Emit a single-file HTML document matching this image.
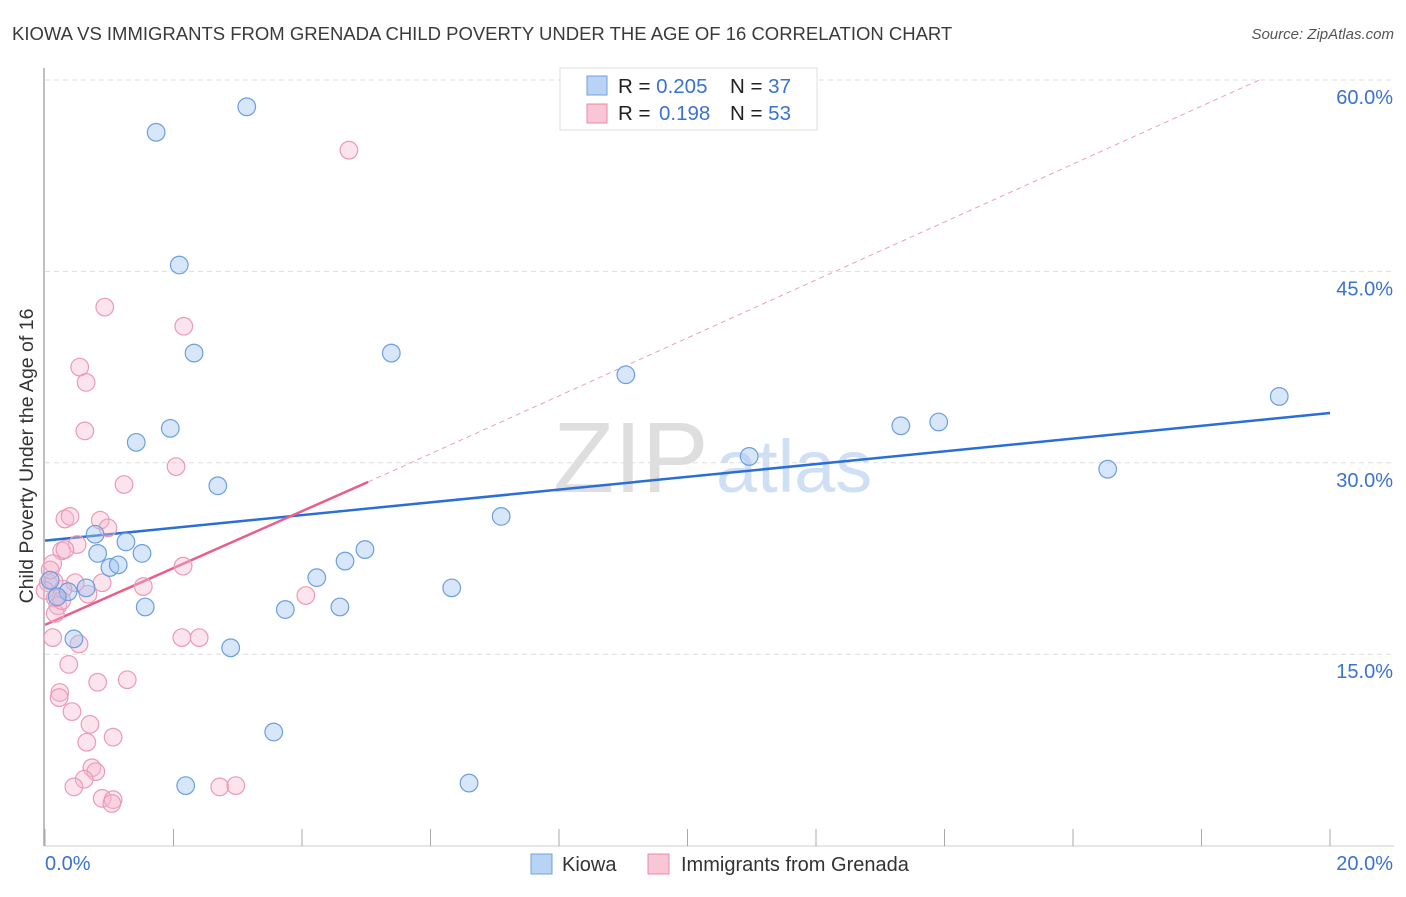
<!DOCTYPE html>
<html><head><meta charset="utf-8"><style>
body{margin:0;background:#fff;font-family:"Liberation Sans",sans-serif;}
svg text{font-family:"Liberation Sans",sans-serif;}
</style></head><body>
<svg id="chart" width="1406" height="892" xmlns="http://www.w3.org/2000/svg">
<text x="12" y="40" font-size="18.5" fill="#3a3a3a">KIOWA VS IMMIGRANTS FROM GRENADA CHILD POVERTY UNDER THE AGE OF 16 CORRELATION CHART</text>
<text x="1394" y="39" font-size="15" fill="#555" text-anchor="end" font-style="italic">Source: ZipAtlas.com</text>
<text x="0" y="0" transform="translate(33,456) rotate(-90)" font-size="19.5" fill="#333" text-anchor="middle">Child Poverty Under the Age of 16</text>
<text x="553" y="492" font-size="100" fill="#dedede" font-family="Liberation Serif">ZIP</text>
<text x="716" y="492" font-size="74" fill="#cfe0f5">atlas</text>
<g id="grid"></g><g id="axes"></g><g id="trend"></g><g id="pts"></g>
<g>
<rect x="560" y="68" width="257" height="62" fill="#fff" stroke="#ddd"/>
<rect x="587" y="76" width="20" height="19" fill="#b9d3f4" stroke="#6fa0e0"/>
<rect x="587" y="104" width="20" height="19" fill="#f9c6d6" stroke="#e88aa8"/>
<text x="618" y="93" font-size="20.5" fill="#222">R = <tspan fill="#3a72d0">0.205</tspan><tspan x="730">N = </tspan><tspan fill="#3a72d0">37</tspan></text>
<text x="618" y="120" font-size="20.5" fill="#222">R = <tspan fill="#3a72d0" x="659">0.198</tspan><tspan x="730">N = </tspan><tspan fill="#3a72d0">53</tspan></text>
</g>
<g>
<rect x="531" y="854" width="21" height="20" fill="#b9d3f4" stroke="#6fa0e0"/>
<text x="562" y="871" font-size="20" fill="#333">Kiowa</text>
<rect x="648" y="854" width="21" height="20" fill="#f9c6d6" stroke="#e88aa8"/>
<text x="681" y="871" font-size="20" fill="#333">Immigrants from Grenada</text>
</g>
</svg>
<script>
const yTicks=[15,30,45,60];
const yTickLabels=["15.0%","30.0%","45.0%","60.0%"];
const xTicks=[0,2,4,6,8,10,12,14,16,18,20];
const xEndLabels=["0.0%","20.0%"];
const kiowaX=[1.73,3.14,2.09,2.32,5.39,9.04,1.42,1.95,2.69,10.96,13.32,13.91,19.21,16.54,7.10,0.78,1.26,0.82,1.51,4.98,4.67,1.01,1.14,4.23,6.33,0.64,0.36,0.19,1.56,3.74,4.59,0.45,2.89,3.56,2.19,6.60,0.08];
const kiowaY=[55.9,57.9,45.5,38.6,38.6,36.9,31.6,32.7,28.2,30.5,32.9,33.2,35.2,29.5,25.8,24.4,23.8,22.9,22.9,23.2,22.3,21.8,22.0,21.0,20.2,20.2,19.9,19.5,18.7,18.5,18.7,16.2,15.5,8.9,4.7,4.9,20.8];
const grenX=[4.73,0.93,2.16,0.54,0.64,0.62,2.04,1.23,0.31,0.39,0.86,0.98,0.50,0.26,0.31,0.12,0.05,0.47,0.89,1.53,0.28,0.16,0.67,2.15,4.06,0.20,0.16,0.12,0.53,2.13,2.40,0.37,0.23,0.22,0.82,1.28,0.42,0.70,1.06,0.65,0.73,0.79,0.61,0.45,0.89,1.06,1.04,2.72,2.97,0.14,0.08,0.26,0.0];
const grenY=[54.5,42.2,40.7,37.5,36.3,32.5,29.7,28.3,25.6,25.8,25.5,24.9,23.6,23.1,23.2,22.1,20.6,20.6,20.6,20.3,20.1,19.4,19.7,21.9,19.6,18.8,18.2,16.3,15.8,16.3,16.3,14.2,12.0,11.6,12.8,13.0,10.5,9.5,8.5,8.1,6.1,5.8,5.2,4.6,3.7,3.6,3.3,4.6,4.7,20.7,21.6,19.2,20.0];
const kiowaTrend=[[0,23.9],[20,33.9]];
const grenTrend=[[0,17.3],[5.03,28.5]];
const grenTrendExt=[[5.03,28.5],[18.9,60]];
const X=v=>45+v*64.25, Y=v=>80+(60-v)*12.76;
const NS="http://www.w3.org/2000/svg";
function mk(p,t,a){const e=document.createElementNS(NS,t);for(const k in a)e.setAttribute(k,a[k]);p.appendChild(e);return e;}
const grid=document.getElementById('grid'),axes=document.getElementById('axes'),tr=document.getElementById('trend'),pts=document.getElementById('pts');
yTicks.forEach((t,i)=>{
 const l=mk(grid,'line',{x1:45,x2:1394,y1:Y(t),y2:Y(t),stroke:'#ddd','stroke-dasharray':'5,4'});
 
 
 const tx=mk(axes,'text',{x:1393,y:Y(t)+24,'font-size':20,fill:'#3a72d0','text-anchor':'end'});
 tx.textContent=yTickLabels[i];
 
 
});
const ax=mk(axes,'line',{x1:44,x2:44,y1:68,y2:846,stroke:'#aaa','stroke-width':1.5});


const bx=mk(axes,'line',{x1:44,x2:1394,y1:846,y2:846,stroke:'#ccc'});


xTicks.forEach(t=>{const l=mk(axes,'line',{x1:X(t),x2:X(t),y1:829,y2:846,stroke:'#aaa'});
 
 });
const xl0=mk(axes,'text',{x:45,y:870,'font-size':20,fill:'#3a72d0'});xl0.textContent=xEndLabels[0];


const xl1=mk(axes,'text',{x:1393,y:870,'font-size':20,fill:'#3a72d0','text-anchor':'end'});xl1.textContent=xEndLabels[1];


function pt(x,y,f,s,n){const c=mk(pts,'circle',{cx:X(x),cy:Y(y),r:8.8,fill:f,stroke:s,'stroke-width':1.2});
 
 }
grenX.forEach((x,i)=>pt(x,grenY[i],'rgba(247,185,205,0.38)','#eb9ab5','grenada-point'));
kiowaX.forEach((x,i)=>pt(x,kiowaY[i],'rgba(160,196,240,0.42)','#6b9fe0','kiowa-point'));
function line(d,col,w,dash,n){const l=mk(tr,'line',{x1:X(d[0][0]),y1:Y(d[0][1]),x2:X(d[1][0]),y2:Y(d[1][1]),stroke:col,'stroke-width':w});
 if(dash)l.setAttribute('stroke-dasharray',dash);
 
 }
line(grenTrendExt,'#eaa0b8',1,'5,4','grenada-trend-extension');
line(kiowaTrend,'#2a6fd6',2.5,null,'kiowa-trend-line');
line(grenTrend,'#e8608a',2.5,null,'grenada-trend-line');
</script>
</body></html>
